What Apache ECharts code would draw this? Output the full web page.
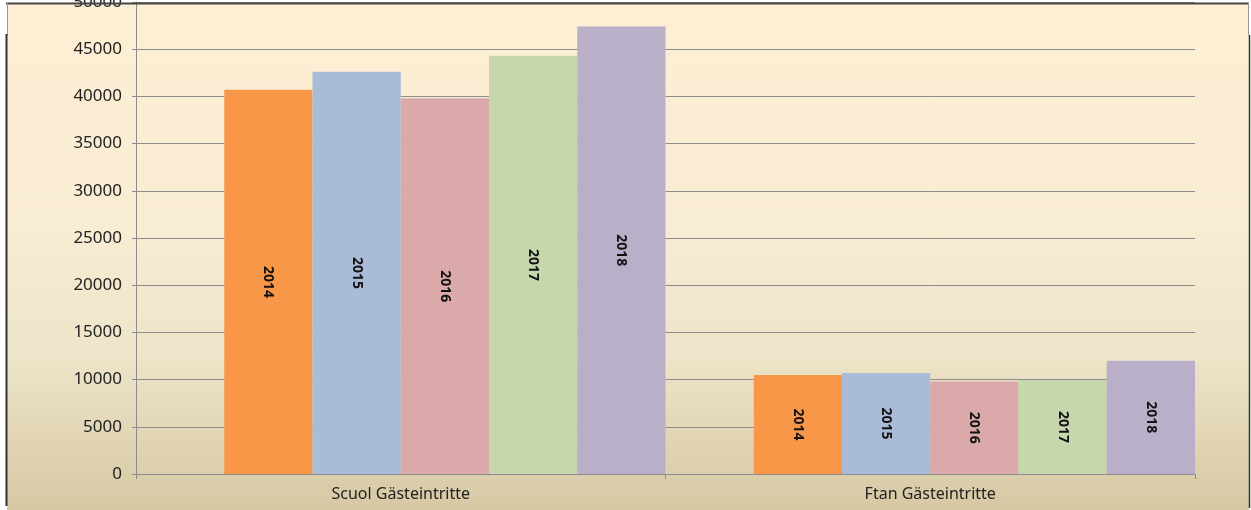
<!DOCTYPE html>
<html>
<head>
<meta charset="utf-8">
<style>
html,body{margin:0;padding:0;background:#fff;}
#c{width:1251px;height:510px;}
</style>
<script src="https://cdn.jsdelivr.net/npm/echarts@6/dist/echarts.min.js"></script>
</head>
<body>
<div id="c"></div>
<script>
const categories = ['Scuol Gästeintritte', 'Ftan Gästeintritte'];
const years = ['2014', '2015', '2016', '2017', '2018'];
const v2014 = [40700, 10500];
const v2015 = [42600, 10700];
const v2016 = [39800, 9800];
const v2017 = [44300, 9950];
const v2018 = [47400, 12000];
const yTicks = { min: 0, max: 50000, interval: 5000 };

const seriesValues = [v2014, v2015, v2016, v2017, v2018];
const colors = ['#F79747', '#AABBD8', '#DBA9A9', '#C6D6AD', '#BAAFC9'];

const chart = echarts.init(document.getElementById('c'));

const series = [{
  type: 'bar', name: '_spacer', data: categories.map(() => null),
  barGap: 0, barCategoryGap: 0, silent: true
}];
seriesValues.forEach((vals, i) => {
  series.push({
    type: 'bar',
    name: years[i],
    data: vals,
    barGap: 0,
    barCategoryGap: 0,
    itemStyle: { color: colors[i] },
    label: {
      show: true,
      position: 'inside',
      rotate: -90,
      formatter: () => years[i],
      fontFamily: 'Noto Sans',
      fontWeight: 'bold',
      fontSize: 14,
      color: '#111'
    }
  });
});

chart.setOption({
  animation: false,
  textStyle: { fontFamily: 'Noto Sans' },
  graphic: [
    {
      type: 'rect', z: -10, silent: true,
      shape: { x: 7, y: 3, width: 1242, height: 507 },
      style: {
        fill: new echarts.graphic.LinearGradient(0, 0, 0, 1, [
          { offset: 0, color: '#FDEFD4' },
          { offset: 0.45, color: '#F8ECD3' },
          { offset: 0.7, color: '#EDE4C9' },
          { offset: 1, color: '#D6C8A3' }
        ])
      }
    },
    { type: 'line', z: 100, silent: true, shape: { x1: 6, y1: 3.5, x2: 1249, y2: 3.5 }, style: { stroke: '#444', lineWidth: 2 } },
    { type: 'line', z: 100, silent: true, shape: { x1: 7.5, y1: 3, x2: 7.5, y2: 35 }, style: { stroke: '#999', lineWidth: 1 } },
    { type: 'line', z: 100, silent: true, shape: { x1: 6.5, y1: 34, x2: 6.5, y2: 506 }, style: { stroke: '#333', lineWidth: 2 } },
    { type: 'line', z: 100, silent: true, shape: { x1: 1248.5, y1: 3, x2: 1248.5, y2: 35 }, style: { stroke: '#999', lineWidth: 1 } },
    { type: 'line', z: 100, silent: true, shape: { x1: 1249.5, y1: 35, x2: 1249.5, y2: 508 }, style: { stroke: '#333', lineWidth: 1.5 } }
  ],
  grid: { left: 136, right: 56, top: 2, bottom: 36, containLabel: false, outerBoundsMode: 'none' },
  xAxis: {
    type: 'category',
    data: categories,
    axisLine: { lineStyle: { color: '#8C8C8C', width: 1 } },
    axisTick: { show: true, length: 5, lineStyle: { color: '#8C8C8C' } },
    axisLabel: { fontSize: 16, color: '#222', margin: 12, fontFamily: 'Noto Sans' },
    splitLine: { show: false }
  },
  yAxis: {
    type: 'value',
    min: yTicks.min, max: yTicks.max, interval: yTicks.interval,
    axisLine: { show: true, lineStyle: { color: '#8C8C8C', width: 1 } },
    axisTick: { show: true, length: 4, lineStyle: { color: '#8C8C8C' } },
    axisLabel: { fontSize: 17, color: '#222', margin: 14, fontFamily: 'Noto Sans', formatter: (v) => String(v) },
    splitLine: { show: true, lineStyle: { color: '#8C8C8C', width: 1 } }
  },
  series: series
});
</script>
</body>
</html>
